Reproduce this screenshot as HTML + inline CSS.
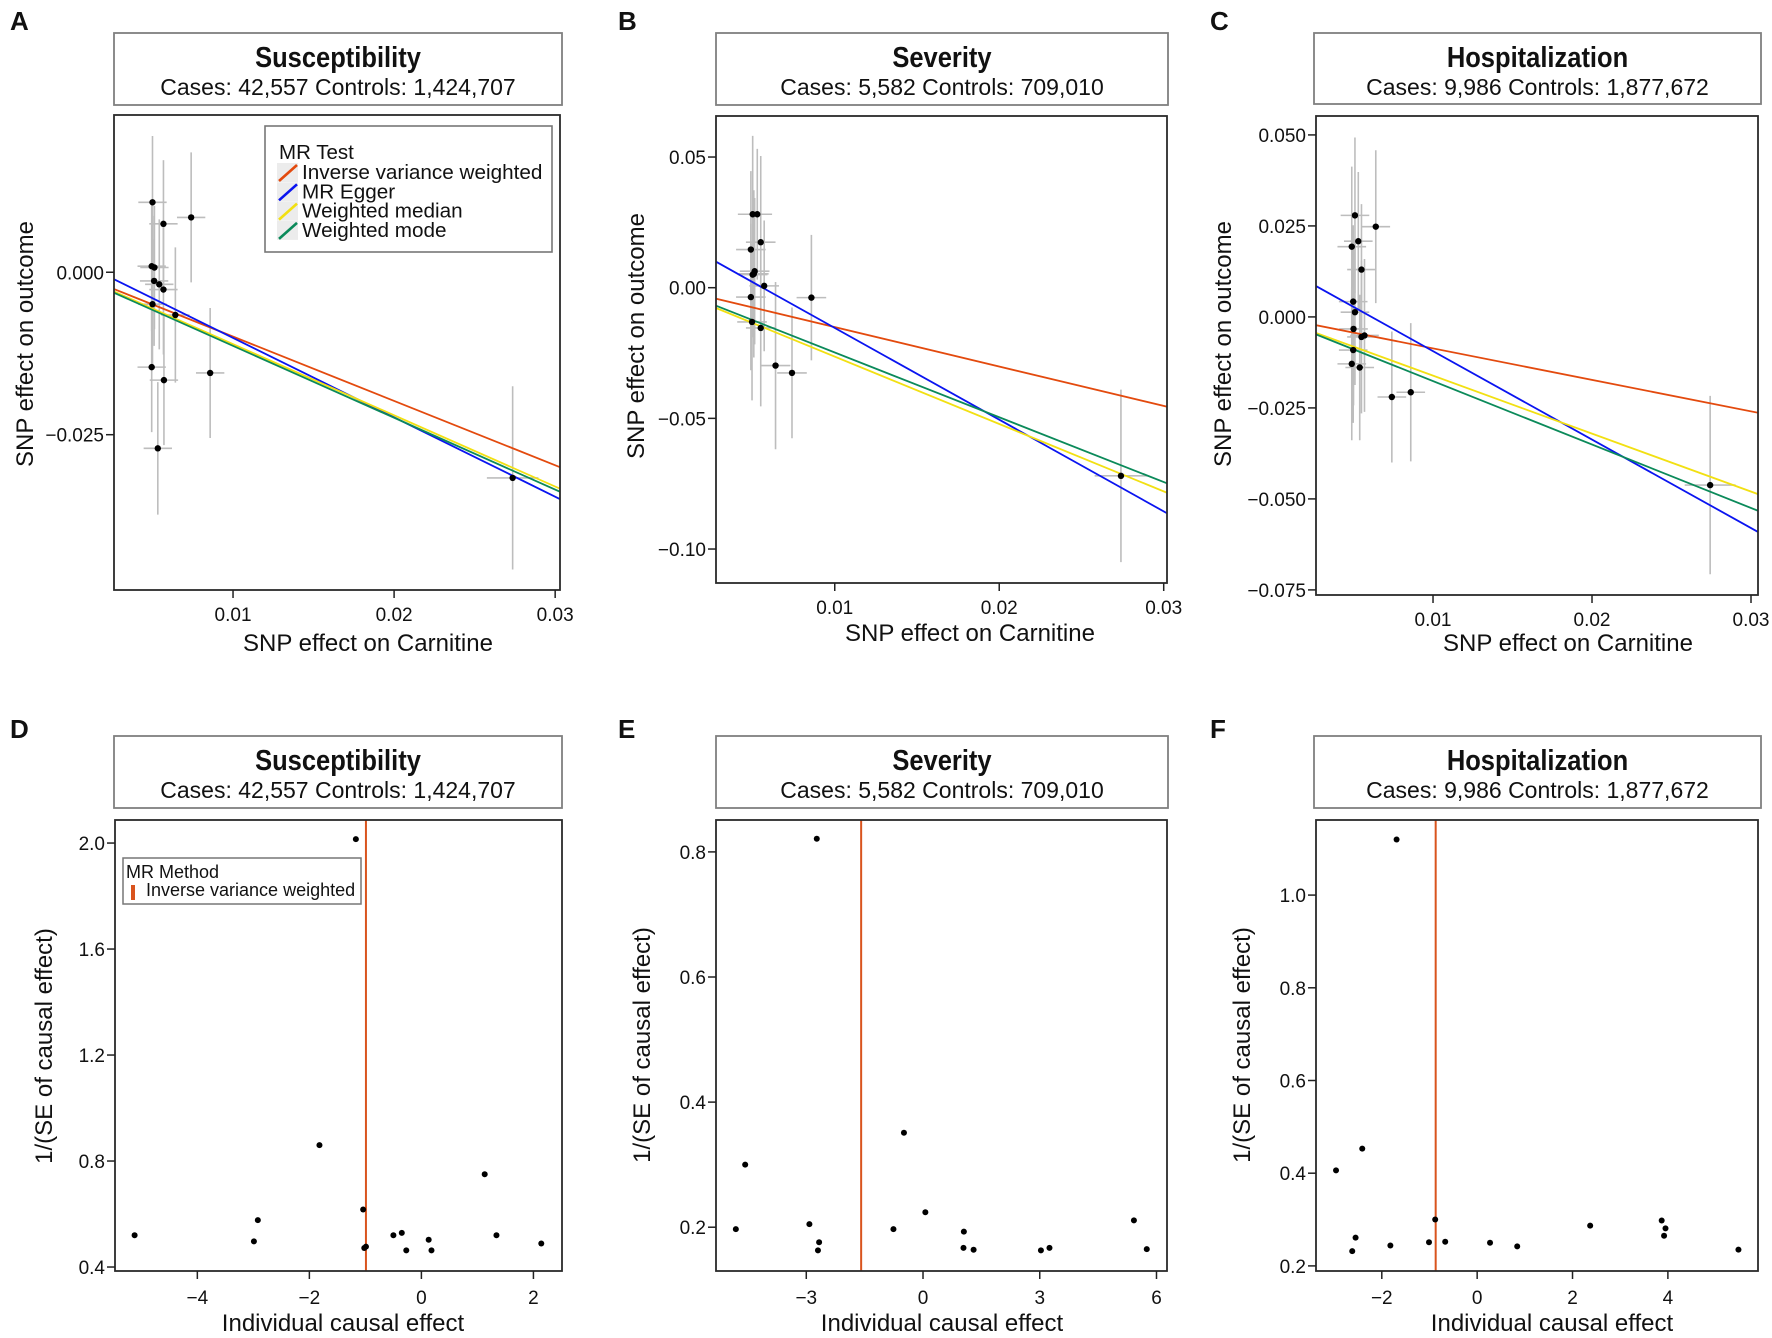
<!DOCTYPE html>
<html><head><meta charset="utf-8"><style>
html,body{margin:0;padding:0;background:#fff}
svg{display:block;font-family:"Liberation Sans",Arial,sans-serif}
</style></head><body>
<svg id="fig" width="1772" height="1338" viewBox="0 0 1772 1338" xmlns="http://www.w3.org/2000/svg"></svg>
<script>
// ---------- data ----------
// Panel A (scatter, susceptibility)
const aBx=[0.0050,0.00568,0.0074,0.00495,0.00512,0.0051,0.00542,0.00568,0.0050,0.00642,0.00858,0.00495,0.00571,0.00533,0.02736];
const aBy=[0.01077,0.00745,0.00844,0.00093,0.00073,-0.00133,-0.00186,-0.00266,-0.00492,-0.00658,-0.0155,-0.0146,-0.0166,-0.0271,-0.03165];
const aSeY=[0.0102,0.0098,0.0100,0.0100,0.0095,0.0100,0.0100,0.0100,0.0100,0.0104,0.0100,0.0100,0.0100,0.0102,0.0141];
const aSeX=[0.00088,0.00088,0.00088,0.00088,0.00088,0.00088,0.00088,0.00088,0.00088,0.00088,0.00088,0.00088,0.00088,0.00088,0.0016];
const aSlope=[-0.99,-1.222,-1.096,-1.106];
const aInt=[0,0.00212,-0.0001,-0.00027];
// Panel B (severity)
const bBx=[0.00501,0.00529,0.0049,0.0055,0.00508,0.00513,0.00501,0.00571,0.0049,0.00497,0.0055,0.0064,0.0074,0.00858,0.0274];
const bBy=[0.0281,0.0281,0.0146,0.0174,0.0053,0.0063,0.0050,0.0007,-0.0036,-0.0131,-0.0154,-0.0298,-0.0326,-0.0038,-0.072];
const bSeY=[0.030,0.025,0.030,0.033,0.032,0.028,0.024,0.025,0.028,0.030,0.030,0.032,0.025,0.024,0.033];
const bSeX=[0.0009,0.0009,0.0009,0.0009,0.0009,0.0009,0.0009,0.0009,0.0009,0.0009,0.0009,0.0009,0.0009,0.0009,0.0016];
const bSlope=[-1.508,-3.51,-2.578,-2.479];
const bInt=[0,0.0197,-0.0006,0];
// Panel C (hospitalization)
const cBx=[0.00509,0.0053,0.00489,0.0064,0.0055,0.00498,0.00509,0.005,0.0055,0.00569,0.00498,0.00489,0.00539,0.00741,0.0086,0.02743];
const cBy=[0.0279,0.0208,0.0193,0.0248,0.0130,0.0042,0.0013,-0.0033,-0.0055,-0.0051,-0.0091,-0.0129,-0.0139,-0.022,-0.0207,-0.0462];
const cSeY=[0.0214,0.0190,0.0220,0.0210,0.0180,0.0210,0.0200,0.0210,0.0210,0.0210,0.0200,0.0210,0.0200,0.0180,0.0190,0.0245];
const cSeX=[0.0009,0.0009,0.0009,0.0009,0.0009,0.0009,0.0009,0.0009,0.0009,0.0009,0.0009,0.0009,0.0009,0.0009,0.0009,0.0016];
const cSlope=[-0.865,-2.43,-1.593,-1.743];
const cInt=[0,0.0149,-0.0002,-0.0002];
// Panel D (funnel, susceptibility)
const dEff=[-1.17,-1.82,1.13,-1.04,-2.92,-5.12,-2.99,-0.99,-1.02,-0.5,-0.35,-0.27,0.13,0.18,1.34,2.14];
const dPrec=[2.015,0.86,0.75,0.617,0.577,0.52,0.497,0.477,0.472,0.52,0.529,0.463,0.503,0.463,0.52,0.489];
const dIvw=-0.99;
// Panel E
const eEff=[-2.73,-4.57,-0.49,0.06,-4.81,-2.92,-2.67,-2.70,-0.76,1.05,1.04,1.30,3.03,3.25,5.42,5.75];
const ePrec=[0.821,0.300,0.351,0.224,0.197,0.205,0.176,0.163,0.197,0.193,0.167,0.164,0.163,0.167,0.211,0.165];
const eIvw=-1.59;
// Panel F
const fEff=[-1.69,-2.41,-2.96,-0.88,2.37,3.87,3.95,3.92,-2.55,-2.62,-1.82,-1.01,-0.67,0.27,0.84,5.48];
const fPrec=[1.120,0.453,0.406,0.300,0.287,0.298,0.281,0.265,0.261,0.232,0.244,0.251,0.252,0.250,0.242,0.235];
const fIvw=-0.87;
// ticks
const xTicksTop=[0.01,0.02,0.03];
const xTickLabTop=["0.01","0.02","0.03"];
const aYTicks=[0,-0.025]; const aYLab=["0.000","\u22120.025"];
const bYTicks=[0.05,0,-0.05,-0.10]; const bYLab=["0.05","0.00","\u22120.05","\u22120.10"];
const cYTicks=[0.05,0.025,0,-0.025,-0.05,-0.075]; const cYLab=["0.050","0.025","0.000","\u22120.025","\u22120.050","\u22120.075"];
const dXTicks=[-4,-2,0,2]; const dXLab=["\u22124","\u22122","0","2"];
const dYTicks=[2.0,1.6,1.2,0.8,0.4]; const dYLab=["2.0","1.6","1.2","0.8","0.4"];
const eXTicks=[-3,0,3,6]; const eXLab=["\u22123","0","3","6"];
const eYTicks=[0.8,0.6,0.4,0.2]; const eYLab=["0.8","0.6","0.4","0.2"];
const fXTicks=[-2,0,2,4]; const fXLab=["\u22122","0","2","4"];
const fYTicks=[1.0,0.8,0.6,0.4,0.2]; const fYLab=["1.0","0.8","0.6","0.4","0.2"];
const methodNames=["Inverse variance weighted","MR Egger","Weighted median","Weighted mode"];
const methodColors=["#e34a0e","#0a14f0","#f2e012","#0b8a5a"];

// ---------- helpers ----------
const svg=document.getElementById('fig');
const NS="http://www.w3.org/2000/svg";
function el(tag,attrs,parent){const e=document.createElementNS(NS,tag);for(const k in attrs)e.setAttribute(k,attrs[k]);(parent||svg).appendChild(e);return e;}
function txt(s,x,y,size,anchor,parent,extra){const t=el('text',Object.assign({x:x,y:y,'font-size':size,'text-anchor':anchor||'start',fill:'#111'},extra||{}),parent);t.textContent=s;return t;}

function panel(cfg){
  const g=el('g',{});
  
  
  const L=cfg.plot[0],T=cfg.plot[1],R=cfg.plot[2],B=cfg.plot[3];
  const sx=v=>L+(v-cfg.xd[0])/(cfg.xd[1]-cfg.xd[0])*(R-L);
  const sy=v=>B-(v-cfg.yd[0])/(cfg.yd[1]-cfg.yd[0])*(B-T);
  const lt=txt(cfg.letter,cfg.lx,cfg.ly,26,'start',g,{'font-weight':'bold'});
  
  
  const tb=cfg.tbox;
  const tr=el('rect',{x:tb[0],y:tb[1],width:tb[2]-tb[0],height:tb[3]-tb[1],fill:'#fff',stroke:'#808080','stroke-width':1.8},g);
  
  
  const cx=(tb[0]+tb[2])/2;
  const t1=txt(cfg.title,cx,tb[1]+34,29,'middle',g,{'font-weight':'bold',transform:`translate(${cx},0) scale(0.88,1) translate(${-cx},0)`});
  
  
  const t2=txt(cfg.sub,cx,tb[1]+62,23,'middle',g);
  
  
  const cid='clip'+cfg.letter;
  const cp=el('clipPath',{id:cid},g); el('rect',{x:L,y:T,width:R-L,height:B-T},cp);
  const pg=el('g',{'clip-path':`url(#${cid})`},g);
  cfg.draw(pg,sx,sy,L,T,R,B);
  const fr=el('rect',{x:L,y:T,width:R-L,height:B-T,fill:'none',stroke:'#2a2a2a','stroke-width':1.8},g);
  
  
  cfg.xt.forEach((v,i)=>{const x=sx(v);el('line',{x1:x,y1:B,x2:x,y2:B+8,stroke:'#222','stroke-width':1.5},g);
    const t=txt(cfg.xl[i],x,B+cfg.xlo,19,'middle',g);
    
    });
  cfg.yt.forEach((v,i)=>{const y=sy(v);el('line',{x1:L,y1:y,x2:L-8,y2:y,stroke:'#222','stroke-width':1.5},g);
    const t=txt(cfg.yl[i],L-10,y+7,19,'end',g);
    
    });
  const xa=txt(cfg.xTitle,cfg.xtx,cfg.xty,24,'middle',g);
  
  
  const ya=txt(cfg.yTitle,0,0,24,'middle',g,{transform:`translate(${cfg.ytx},${cfg.yty}) rotate(-90)`});
  
  
  if(cfg.after)cfg.after(g);
}

function scatterDraw(bx,by,seX,seY,slope,icpt){
  return function(pg,sx,sy,L,T,R,B){
    for(let i=0;i<bx.length;i++){
      const v=el('line',{x1:sx(bx[i]),y1:sy(by[i]-seY[i]),x2:sx(bx[i]),y2:sy(by[i]+seY[i]),stroke:'#bdbdbd','stroke-width':1.6},pg);
      
      
      const h=el('line',{x1:sx(bx[i]-seX[i]),y1:sy(by[i]),x2:sx(bx[i]+seX[i]),y2:sy(by[i]),stroke:'#bdbdbd','stroke-width':1.6},pg);
      
      
    }
    const x0=-0.01,x1=0.05;
    for(let m=0;m<slope.length;m++){
      const ln=el('line',{x1:sx(x0),y1:sy(icpt[m]+slope[m]*x0),x2:sx(x1),y2:sy(icpt[m]+slope[m]*x1),stroke:methodColors[m],'stroke-width':1.8},pg);
      
      
    }
    for(let i=0;i<bx.length;i++){
      const c=el('circle',{cx:sx(bx[i]),cy:sy(by[i]),r:3.2,fill:'#000'},pg);
      
      
    }
  };
}
function funnelDraw(eff,prec,ivw){
  return function(pg,sx,sy,L,T,R,B){
    const ln=el('line',{x1:sx(ivw),y1:T,x2:sx(ivw),y2:B,stroke:'#d9541e','stroke-width':2},pg);
    
    
    for(let i=0;i<eff.length;i++){
      const c=el('circle',{cx:sx(eff[i]),cy:sy(prec[i]),r:3,fill:'#000'},pg);
      
      
    }
  };
}
const sTitle=["Susceptibility","Severity","Hospitalization"];
const sSub=["Cases: 42,557 Controls: 1,424,707","Cases: 5,582 Controls: 709,010","Cases: 9,986 Controls: 1,877,672"];

panel({name:'panel-a',letter:'A',lx:10,ly:30,tbox:[114,33,562,105],plot:[114,115,560,590],xd:[0.00261,0.0303],yd:[-0.0489,0.0242],
  title:sTitle[0],sub:sSub[0],xt:xTicksTop,xl:xTickLabTop,xlo:31,yt:aYTicks,yl:aYLab,xTitle:'SNP effect on Carnitine',xtx:368,xty:651,yTitle:'SNP effect on outcome',ytx:33,yty:344,
  draw:scatterDraw(aBx,aBy,aSeX,aSeY,aSlope,aInt),
  after:function(g){
    const lg=el('g',{},g);
    
    
    el('rect',{x:265,y:126,width:287,height:126,fill:'#fff',stroke:'#777','stroke-width':1.6},lg);
    txt('MR Test',279,159,20.5,'start',lg);
    methodNames.forEach((n,i)=>{const by=179+i*19.3;
      el('rect',{x:277,y:by-16,width:21,height:19,fill:'#ececec'},lg);
      const s=el('line',{x1:279,y1:by+2,x2:297,y2:by-14,stroke:methodColors[i],'stroke-width':2.6},lg);
      
      
      const t=txt(n,302,by,20.7,'start',lg);
      
      });
  }});
panel({name:'panel-b',letter:'B',lx:618,ly:30,tbox:[716,33,1168,105],plot:[716,116,1167,583],xd:[0.00278,0.0302],yd:[-0.113,0.0657],
  title:sTitle[1],sub:sSub[1],xt:xTicksTop,xl:xTickLabTop,xlo:31,yt:bYTicks,yl:bYLab,xTitle:'SNP effect on Carnitine',xtx:970,xty:641,yTitle:'SNP effect on outcome',ytx:644,yty:336,
  draw:scatterDraw(bBx,bBy,bSeX,bSeY,bSlope,bInt)});
panel({name:'panel-c',letter:'C',lx:1210,ly:30,tbox:[1314,33,1761,104],plot:[1316,116,1758,595],xd:[0.00264,0.03044],yd:[-0.0764,0.0552],
  title:sTitle[2],sub:sSub[2],xt:xTicksTop,xl:xTickLabTop,xlo:31,yt:cYTicks,yl:cYLab,xTitle:'SNP effect on Carnitine',xtx:1568,xty:651,yTitle:'SNP effect on outcome',ytx:1231,yty:344,
  draw:scatterDraw(cBx,cBy,cSeX,cSeY,cSlope,cInt)});
panel({name:'panel-d',letter:'D',lx:10,ly:738,tbox:[114,736,562,808],plot:[115,820,562,1271],xd:[-5.47,2.51],yd:[0.385,2.087],
  title:sTitle[0],sub:sSub[0],xt:dXTicks,xl:dXLab,xlo:33,yt:dYTicks,yl:dYLab,xTitle:'Individual causal effect',xtx:343,xty:1331,yTitle:'1/(SE of causal effect)',ytx:52,yty:1046,
  draw:funnelDraw(dEff,dPrec,dIvw),
  after:function(g){
    const lg=el('g',{},g);
    
    
    el('rect',{x:123,y:858,width:238,height:46,fill:'#fff',stroke:'#777','stroke-width':1.5},lg);
    txt('MR Method',126,878,18,'start',lg);
    const s=el('rect',{x:131,y:885,width:4,height:15,fill:'#d9541e'},lg);
    
    
    const t=txt('Inverse variance weighted',146,896,18,'start',lg);
    
    
  }});
panel({name:'panel-e',letter:'E',lx:618,ly:738,tbox:[716,736,1168,808],plot:[716,820,1167,1271],xd:[-5.32,6.27],yd:[0.130,0.851],
  title:sTitle[1],sub:sSub[1],xt:eXTicks,xl:eXLab,xlo:33,yt:eYTicks,yl:eYLab,xTitle:'Individual causal effect',xtx:942,xty:1331,yTitle:'1/(SE of causal effect)',ytx:650,yty:1045,
  draw:funnelDraw(eEff,ePrec,eIvw)});
panel({name:'panel-f',letter:'F',lx:1210,ly:738,tbox:[1314,736,1761,808],plot:[1316,820,1758,1271],xd:[-3.38,5.89],yd:[0.189,1.162],
  title:sTitle[2],sub:sSub[2],xt:fXTicks,xl:fXLab,xlo:33,yt:fYTicks,yl:fYLab,xTitle:'Individual causal effect',xtx:1552,xty:1331,yTitle:'1/(SE of causal effect)',ytx:1250,yty:1045,
  draw:funnelDraw(fEff,fPrec,fIvw)});
</script>
</body></html>
